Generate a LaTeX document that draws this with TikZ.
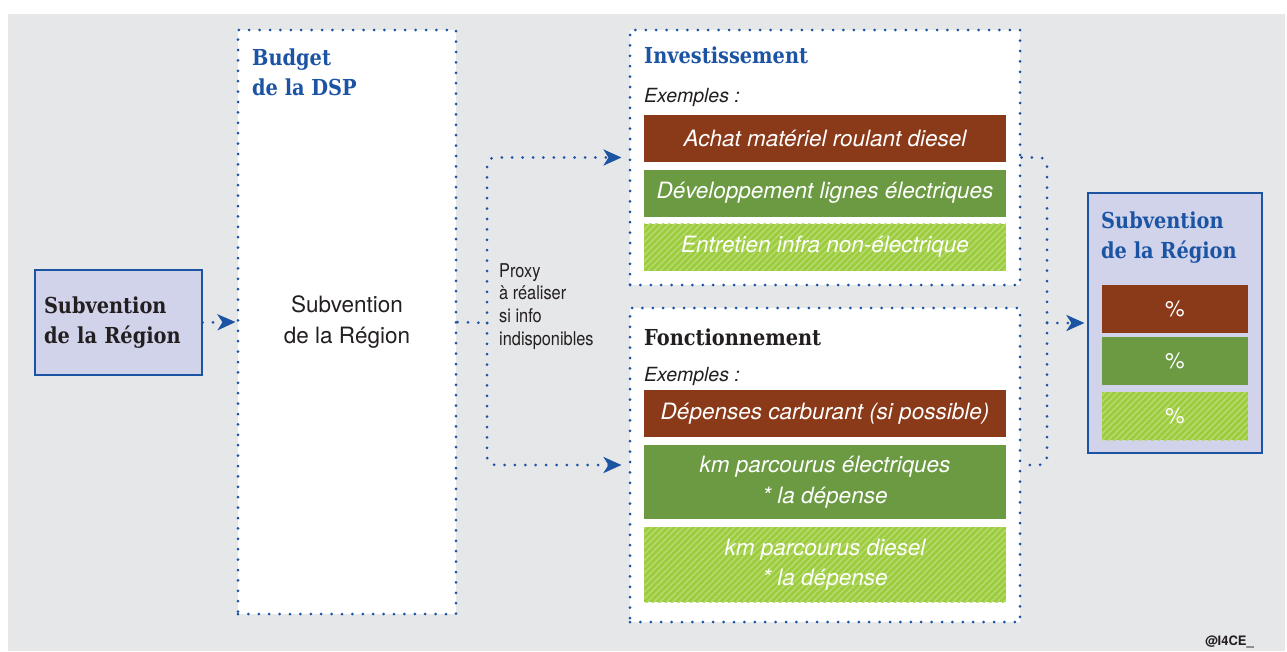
\documentclass[tikz,border=0pt]{standalone}
\usepackage{fontspec}
\setmainfont{TeX Gyre Heros}
\newfontfamily\slabfont[FakeStretch=0.88]{DejaVu Serif}
\newfontfamily\narrowfont[FakeStretch=0.86]{TeX Gyre Heros}
\usetikzlibrary{arrows.meta,patterns.meta}

\definecolor{bggray}{HTML}{E6E7E9}
\definecolor{lavender}{HTML}{D1D3EA}
\definecolor{i4blue}{HTML}{1C54A4}
\definecolor{darktext}{HTML}{231F20}
\definecolor{brownbar}{HTML}{8B3A19}
\definecolor{greenbar}{HTML}{6B9A42}
\definecolor{lightgreen}{HTML}{9CCB3C}
\definecolor{stripe}{HTML}{B4D96C}

\tikzset{
  dotline/.style={draw=i4blue, line width=3pt, line cap=round, dash pattern=on 0pt off 10.4pt},
  link/.style={dotline, -{Stealth[length=18pt,width=16pt,inset=5pt]}},
  dspbox/.style={dotline, fill=white, inner sep=0pt},
  regbox/.style={draw=i4blue, line width=1.2pt, fill=lavender},
  heading/.style={font=\slabfont\bfseries\fontsize{22}{30}\selectfont, align=left, inner sep=0pt, anchor=north west},
  example/.style={font=\fontsize{19.5}{24}\selectfont\itshape, text=darktext, inner sep=0pt, anchor=north west},
  bar/.style={minimum width=362pt, minimum height=47pt, inner sep=0pt, text=white, align=center,
    font=\fontsize{22.5}{30.5}\selectfont\itshape},
  brownbar/.style={bar, fill=brownbar},
  greenbar/.style={bar, fill=greenbar},
  hatched/.style={fill=lightgreen, postaction={pattern={Lines[angle=45,distance=4.5pt,line width=1.7pt]}, pattern color=stripe}},
  hatchbar/.style={bar, hatched},
  pct/.style={minimum width=146pt, minimum height=48pt, inner sep=0pt, text=white, font=\fontsize{22}{26}\selectfont}
}

\begin{document}
\begin{tikzpicture}[x=1pt,y=-1pt]
  \useasboundingbox (0,0) rectangle (1287,651);
  \fill[bggray] (8,14) rectangle (1285,651);

  % left: subvention
  \node[regbox, minimum width=167pt, minimum height=105pt, text width=149pt, inner sep=9pt, align=left,
    font=\slabfont\bfseries\fontsize{22}{30.5}\selectfont, text=darktext] (subL) at (118.5,322.5) {Subvention\\de la Région};

  % budget de la DSP
  \node[dspbox, minimum width=218pt, minimum height=584pt, align=center, text=darktext,
    font=\fontsize{22.5}{30.5}\selectfont] (dsp) at (347,322) {Subvention\\de la Région};
  \node[heading, text=i4blue] (dsptitle) at (252,49) {Budget\\de la DSP};

  \node[font=\narrowfont\fontsize{19}{22.7}\selectfont, align=left, inner sep=0pt, anchor=north west,
    text=darktext] (proxy) at (499,263) {Proxy\\à réaliser\\si info\\indisponibles};

  % investissement
  \node[dspbox, minimum width=390pt, minimum height=255pt] (inv) at (825,157.5) {};
  \node[heading, text=i4blue] (invtitle) at (644,47) {Investissement};
  \node[example] (invex) at (644,88) {Exemples :};
  \node[brownbar] (achat) at (825,138.5) {Achat matériel roulant diesel};
  \node[greenbar] (lignes) at (825,193) {Développement lignes électriques};
  \node[hatchbar] (entretien) at (825,247) {Entretien infra non-électrique};

  % fonctionnement
  \node[dspbox, minimum width=390pt, minimum height=314pt] (fonc) at (825,465) {};
  \node[heading, text=darktext] (fonctitle) at (644,329) {Fonctionnement};
  \node[example] (foncex) at (644,367) {Exemples :};
  \node[brownbar] (carbu) at (825,413.5) {Dépenses carburant (si possible)};
  \node[greenbar, minimum height=74pt] (kmelec) at (825,482) {km parcourus électriques\\* la dépense};
  \node[hatchbar, minimum height=75pt] (kmdiesel) at (825,564.5) {km parcourus diesel\\* la dépense};

  % right: subvention en %
  \node[regbox, minimum width=174pt, minimum height=260pt] (subR) at (1175,323) {};
  \node[heading, text=i4blue] (subRtitle) at (1101,212) {Subvention\\de la Région};
  \node[pct, fill=brownbar] (pctA) at (1175,309) {\%};
  \node[pct, fill=greenbar] (pctB) at (1175,361) {\%};
  \node[pct, hatched] (pctC) at (1175,416) {\%};

  \node[font=\bfseries\fontsize{13}{15}\selectfont, text=darktext, inner sep=0pt, anchor=base east] (credit) at (1254,645) {@I4CE\_};

  % connectors
  \coordinate (split) at (487,323);
  \coordinate (merge) at (1047,323);
  \draw[link, shorten >=1pt] (subL.east) -- (dsp.west);
  \draw[dotline] (dsp.east) -- (split);
  \draw[link, rounded corners=8pt, shorten >=7pt] (split) |- (inv.west);
  \draw[link, rounded corners=8pt, shorten >=7pt] (split) |- (fonc.west);
  \draw[dotline, rounded corners=8pt] (inv.east) -| (merge) |- (fonc.east);
  \draw[link, shorten >=3pt] (merge) -- (subR.west);
\end{tikzpicture}
\end{document}
